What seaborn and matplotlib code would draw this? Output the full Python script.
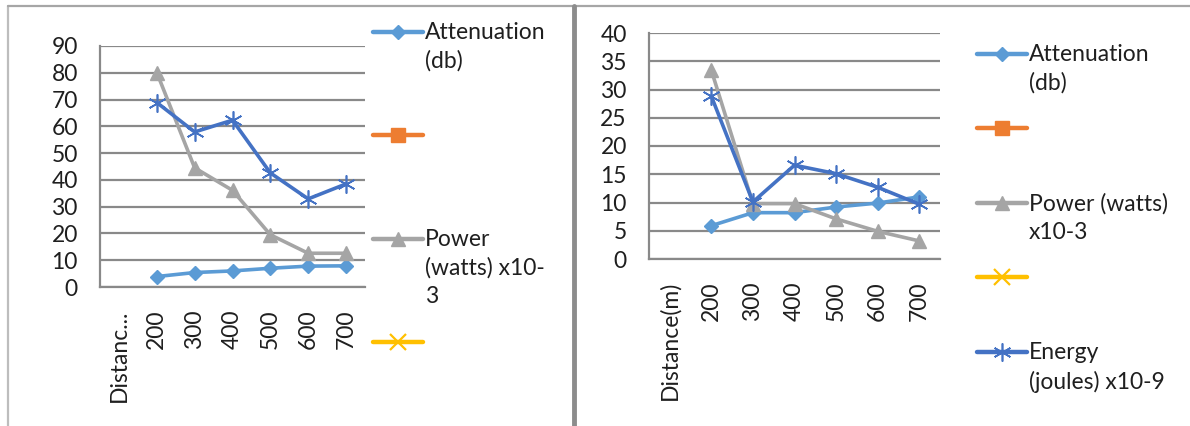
import matplotlib
matplotlib.use("Agg")
import matplotlib.pyplot as plt
from matplotlib.lines import Line2D
import numpy as np
import seaborn as sns

# categories (first one has no data, like the excel sheet header)
categories = ["Distanc...", "200", "300", "400", "500", "600", "700"]
categories_r = ["Distance(m)", "200", "300", "400", "500", "600", "700"]

# left chart
att_left = [3.9, 5.4, 6.0, 7.0, 7.8, 7.9]
power_left = [80.1, 44.5, 36.1, 19.5, 12.6, 12.6]
energy_left = [68.9, 57.9, 62.3, 42.6, 32.9, 38.5]

# right chart
att_right = [5.9, 8.2, 8.2, 9.2, 9.9, 11.0]
power_right = [33.4, 9.8, 9.8, 7.1, 4.9, 3.2]
energy_right = [28.8, 10.1, 16.6, 15.1, 12.7, 9.7]

# left legend only shows 4 entries (the energy one falls outside the picture)
labels_left = ["Attenuation\n(db)", "", "Power\n(watts) x10-\n3", ""]
labels_right = ["Attenuation\n(db)", "", "Power (watts)\nx10-3", "", "Energy\n(joules) x10-9"]

c_att = "#5B9BD5"
c_orange = "#ED7D31"
c_power = "#A5A5A5"
c_yellow = "#FFC000"
c_energy = "#4472C4"
grid_c = "#898989"
text_c = "#1F1F1F"
FS = 16.5

sns.set_style("white")
plt.rcParams['font.family'] = ['Lato', 'DejaVu Sans']

W, H = 1190, 426
fig = plt.figure(figsize=(W / 100, H / 100), dpi=100)

star = (6, 2, 0)
styles = [
    (c_att, "D", 7, 1.0),
    (c_orange, "s", 10, 1.0),
    (c_power, "^", 10, 1.0),
    (c_yellow, "x", 11, 1.6),
    (c_energy, star, 13, 1.2),
]


def px(x, y):
    return x / W, 1 - y / H


def draw_chart(rect, cats, series, ymax, ystep):
    ax = fig.add_axes(rect)
    xpos = np.arange(1, len(cats)) + 0.5
    for vals, idx in series:
        col, mk, ms, mew = styles[idx]
        sns.lineplot(x=xpos, y=vals, ax=ax, color=col, marker=mk, markersize=ms,
                     markeredgecolor=col, markeredgewidth=mew, linewidth=2.6,
                     zorder=3, legend=False)
    ax.set_xlim(0, len(cats))
    ax.set_ylim(0, ymax)
    ax.set_xticks(np.arange(0, len(cats) + 1))
    ax.set_xticklabels([])
    ax.set_xticks(np.arange(len(cats)) + 0.5, minor=True)
    ax.set_xticklabels(cats, minor=True, rotation=90, fontsize=FS, color=text_c)
    ax.tick_params(axis="x", which="minor", length=0, pad=16)
    ax.tick_params(axis="x", which="major", length=7, width=1.6, color=grid_c, direction="out")
    ax.set_yticks(np.arange(0, ymax + ystep, ystep))
    ax.tick_params(axis="y", length=7, width=1.6, color=grid_c, direction="out",
                   labelsize=FS, labelcolor=text_c, pad=9)
    ax.yaxis.grid(True, color=grid_c, linewidth=1.6)
    ax.set_axisbelow(True)
    for s in ["top", "right"]:
        ax.spines[s].set_visible(False)
    for s in ["left", "bottom"]:
        ax.spines[s].set_color(grid_c)
        ax.spines[s].set_linewidth(1.6)
    ax.set_xlabel("")
    ax.set_ylabel("")
    return ax


def draw_legend(x0, ys, labels):
    for i, (y, lab) in enumerate(zip(ys, labels)):
        col, mk, ms, mew = styles[i]
        a, b = px(x0, y)
        c, _ = px(x0 + 50, y)
        fig.add_artist(Line2D([a, c], [b, b], color=col, linewidth=3.2))
        fig.add_artist(Line2D([(a + c) / 2], [b], color=col, marker=mk, markersize=ms,
                              markeredgecolor=col, markeredgewidth=mew))
        tx, ty = px(x0 + 52, y - 10)
        fig.text(tx, ty, lab, va="top", ha="left", fontsize=FS, color=text_c, linespacing=1.42)


# left chart: axes from x=100..365, y 287 (0) .. 46 (90)
draw_chart([100 / W, 1 - 287 / H, 265 / W, 241 / H], categories,
           [(att_left, 0), (power_left, 2), (energy_left, 4)], 90, 10)
draw_legend(373, [32, 135, 239, 342], labels_left)

# right chart: axes from x=649..940, y 259 (0) .. 33 (40)
draw_chart([649 / W, 1 - 259 / H, 291 / W, 226 / H], categories_r,
           [(att_right, 0), (power_right, 2), (energy_right, 4)], 40, 5)
draw_legend(977, [54, 128, 203, 277, 352], labels_right)

# panel frames
fig.add_artist(Line2D([8 / W, 8 / W], [0, 1 - 6 / H], color="#BDBDBD", linewidth=1.6))
fig.add_artist(Line2D([8 / W, 1], [1 - 6 / H, 1 - 6 / H], color="#A6A6A6", linewidth=1.6))
fig.add_artist(Line2D([574 / W, 574 / W], [0, 1 - 6 / H], color="#8C8C8C", linewidth=3.5))

fig.savefig("out.png", dpi=100, facecolor="white")
